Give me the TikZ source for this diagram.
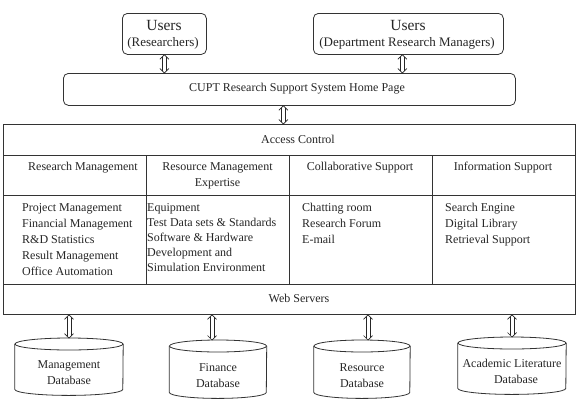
\documentclass[tikz,border=0pt]{standalone}
\usepackage{fontspec}
\setmainfont{Liberation Serif}
\usetikzlibrary{arrows.meta}
\newcommand{\dbcyl}[6]{%
  \node[inner sep=0pt, minimum width=#5pt, minimum height={(#4-#3)*1pt}, anchor=north] (#1) at (#2,#3) {};
  \draw[dbline] ([yshift=-6pt]#1.north west) -- ([yshift=6pt]#1.south west)
     arc[start angle=180, end angle=360, x radius={#5*0.5pt}, y radius=6pt]
     -- ([yshift=-6pt]#1.north east);
  \draw[dbline] ([yshift=-6pt]#1.north) ellipse[x radius={#5*0.5pt}, y radius=6pt];
  \node[txt, align=center] (#1-t) at ([yshift=-6pt]#1.center) {#6};
}
% vertical double arrow between two named coordinates (#1 top, #2 bottom)
\newcommand{\dblarr}[2]{%
  \draw[arrline] ([xshift=-4.5pt,yshift=-4.5pt]#1) -- (#1) -- ([xshift=4.5pt,yshift=-4.5pt]#1);
  \draw[arrline] ([xshift=-4.5pt,yshift=4.5pt]#2) -- (#2) -- ([xshift=4.5pt,yshift=4.5pt]#2);
  \draw[arrline] ([xshift=-2pt,yshift=-2pt]#1) -- ([xshift=-2pt,yshift=2pt]#2);
  \draw[arrline] ([xshift=2pt,yshift=-2pt]#1) -- ([xshift=2pt,yshift=2pt]#2);
}
\begin{document}
\begin{tikzpicture}[x=1pt,y=-1pt,
  box/.style={draw=black!80, line width=0.8pt, inner sep=0pt, anchor=north west},
  dbline/.style={draw=black!80, line width=0.8pt},
  arrline/.style={draw=black!85, line width=0.7pt, line join=round},
  txt/.style={font=\fontsize{12}{16}\selectfont, inner sep=0pt, text=black!85},
  big/.style={font=\fontsize{15.5}{18}\selectfont, inner sep=0pt, text=black!85},
  mid/.style={font=\fontsize{13}{16}\selectfont, inner sep=0pt, text=black!85},
  lst/.style={txt, align=left, anchor=north west},
]
\useasboundingbox[fill=white] (0,0) rectangle (578,402);

% users
\node[box, rounded corners=5pt, minimum width=84pt, minimum height=41pt] (u1) at (122,13) {};
\node[big] (u1a) at (164,25) {Users};
\node[mid] (u1b) at (163,43) {(Researchers)};
\node[box, rounded corners=5pt, minimum width=190pt, minimum height=41pt] (u2) at (313,13) {};
\node[big] (u2a) at (408,25) {Users};
\node[mid] (u2b) at (407,43) {(Department Research Managers)};

% home page
\node[box, rounded corners=5pt, minimum width=452pt, minimum height=32pt] (home) at (63,73) {};
\node[txt] (homet) at (297,89) {CUPT Research Support System Home Page};

% main table
\node[box, minimum width=572pt, minimum height=31pt] (access) at (3,124) {};
\node[txt] (accesst) at (298,139) {Access Control};
\node[box, minimum width=143pt, minimum height=40pt] (h1) at (3,155) {};
\node[box, minimum width=143pt, minimum height=40pt] (h2) at (146,155) {};
\node[box, minimum width=143pt, minimum height=40pt] (h3) at (289,155) {};
\node[box, minimum width=143pt, minimum height=40pt] (h4) at (432,155) {};
\node[box, minimum width=143pt, minimum height=89pt] (c1) at (3,195) {};
\node[box, minimum width=143pt, minimum height=89pt] (c2) at (146,195) {};
\node[box, minimum width=143pt, minimum height=89pt] (c3) at (289,195) {};
\node[box, minimum width=143pt, minimum height=89pt] (c4) at (432,195) {};
\node[box, minimum width=572pt, minimum height=30pt] (web) at (3,284) {};
\node[txt] (webt) at (299,298) {Web Servers};

\node[txt] (h1t) at (83,168) {Research Management};
\node[txt, align=center] (h2t) at (217.5,176) {Resource Management\\Expertise};
\node[txt] (h3t) at (360,168) {Collaborative Support};
\node[txt] (h4t) at (503,168) {Information Support};

\node[lst] (c1t) at (22,203) {Project Management\\Financial Management\\R\&D Statistics\\Result Management\\Office Automation};
\node[lst, font=\fontsize{12}{15}\selectfont] (c2t) at (147,203) {Equipment\\Test Data sets \& Standards\\Software \& Hardware\\Development and\\Simulation Environment};
\node[lst] (c3t) at (302,203) {Chatting room\\Research Forum\\E-mail};
\node[lst] (c4t) at (445,203) {Search Engine\\Digital Library\\Retrieval Support};

% databases
\dbcyl{db1}{69}{338}{395}{108}{Management\\Database}
\dbcyl{db2}{218}{340}{398}{97}{Finance\\Database}
\dbcyl{db3}{362}{340}{398}{96}{Resource\\Database}
\dbcyl{db4}{512}{337}{394}{108}{Academic Literature\\\hspace*{8pt}Database}

% arrow end points
\coordinate (a1t) at (u1.south);
\coordinate (a1b) at (u1.south |- home.north);
\coordinate (a2t) at ([xshift=-6pt]u2.south);
\coordinate (a2b) at (a2t |- home.north);
\coordinate (a3t) at ([xshift=-6pt]home.south);
\coordinate (a3b) at (a3t |- access.north);
\coordinate (d1t) at (db1.north |- web.south);
\coordinate (d1b) at (db1.north);
\coordinate (d2b) at ([xshift=-6pt]db2.north);
\coordinate (d2t) at (d2b |- web.south);
\coordinate (d3b) at ([xshift=6pt]db3.north);
\coordinate (d3t) at (d3b |- web.south);
\coordinate (d4t) at (db4.north |- web.south);
\coordinate (d4b) at (db4.north);

\dblarr{a1t}{a1b}
\dblarr{a2t}{a2b}
\dblarr{a3t}{a3b}
\dblarr{d1t}{d1b}
\dblarr{d2t}{d2b}
\dblarr{d3t}{d3b}
\dblarr{d4t}{d4b}
\end{tikzpicture}
\end{document}
